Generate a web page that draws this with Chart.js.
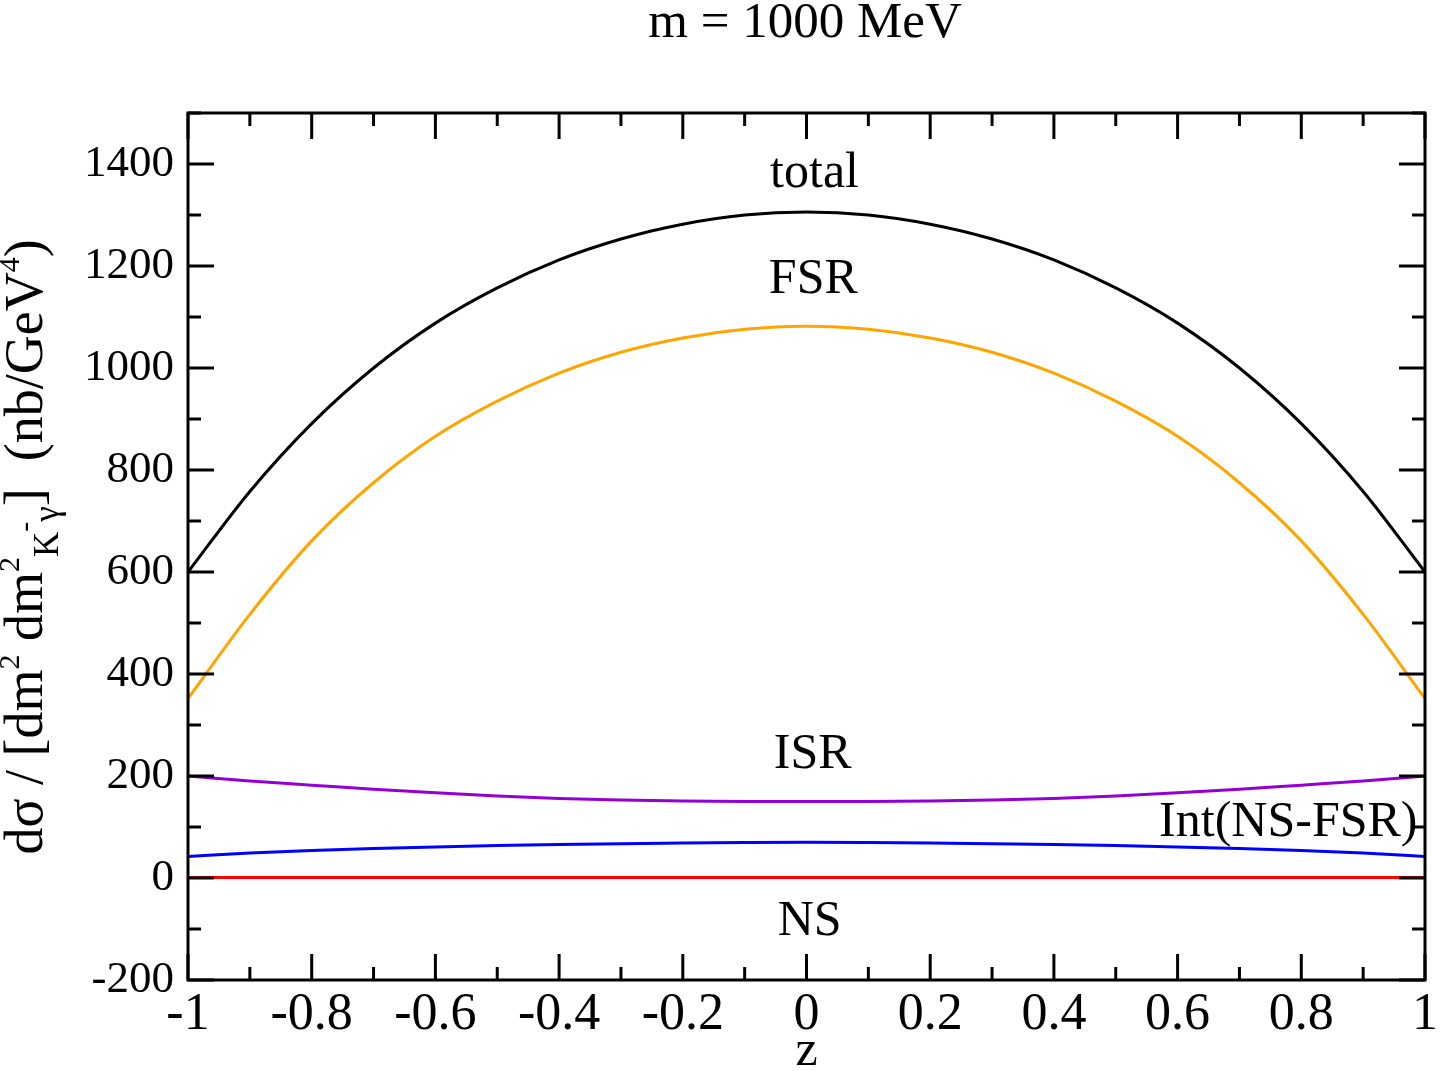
<!DOCTYPE html>
<html>
<head>
<meta charset="utf-8">
<script src="https://cdn.jsdelivr.net/npm/chart.js@4/dist/chart.umd.min.js"></script>
<style>
  html, body { margin: 0; padding: 0; background: #fff; }
</style>
</head>
<body>
<canvas id="myChart" width="1442" height="1071"></canvas>
<script>
// valores de z (eje X)
const zValues = [-1, -0.9, -0.8, -0.7, -0.6, -0.5, -0.4, -0.3, -0.2, -0.1, 0,
                 0.1, 0.2, 0.3, 0.4, 0.5, 0.6, 0.7, 0.8, 0.9, 1];

// curvas (nb/GeV^4)
const totalValues = [600, 758, 891, 1000, 1088, 1157, 1212, 1253, 1282, 1300, 1306,
                     1300, 1282, 1253, 1212, 1157, 1088, 1000, 891, 758, 600];
const fsrValues = [352, 517, 661, 775, 866, 935, 990, 1031, 1059, 1076, 1082,
                   1076, 1059, 1031, 990, 935, 866, 775, 661, 517, 352];
const isrValues = [200, 190, 182, 174, 167, 161, 156, 153, 151, 150, 150,
                   150, 151, 153, 156, 161, 167, 174, 182, 190, 200];
const intValues = [42, 49, 54, 58, 61, 63.5, 65.5, 67, 68.5, 69.5, 70,
                   69.5, 68.5, 67, 65.5, 63.5, 61, 58, 54, 49, 42];
const nsValues = [1, 1, 1, 1, 1, 1, 1, 1, 1, 1, 1,
                  1, 1, 1, 1, 1, 1, 1, 1, 1, 1];

// etiquetas dentro del gráfico [texto, z, valor]
const curveLabels = [
    ['total', 0.013, 1355],
    ['FSR', 0.011, 1147],
    ['ISR', 0.01, 215],
    ['Int(NS-FSR)', 0.779, 83],
    ['NS', 0.005, -111]
];

const FONT = '"Liberation Serif", "Times New Roman", serif';

function serie(vals, color) {
    return {
        data: zValues.map((z, i) => ({ x: z, y: vals[i] })),
        borderColor: color,
        borderWidth: 3,
        pointRadius: 0,
        fill: false,
        cubicInterpolationMode: 'monotone'
    };
}

// marco, ticks interiores y textos
const decoPlugin = {
    id: 'deco',
    afterDraw(chart) {
        const ctx = chart.ctx;
        const a = chart.chartArea;
        const xs = chart.scales.x;
        const ys = chart.scales.y;
        ctx.save();
        ctx.strokeStyle = '#000';
        ctx.lineWidth = 3;

        // ticks X (mayores cada 0.2, menores cada 0.1)
        for (let i = -10; i <= 10; i++) {
            const px = xs.getPixelForValue(i / 10);
            const len = (i % 2 === 0) ? 26 : 13;
            ctx.beginPath();
            ctx.moveTo(px, a.bottom); ctx.lineTo(px, a.bottom - len);
            ctx.moveTo(px, a.top); ctx.lineTo(px, a.top + len);
            ctx.stroke();
        }
        // ticks Y (mayores cada 200, menores cada 100)
        for (let v = -200; v <= 1500; v += 100) {
            const py = ys.getPixelForValue(v);
            const len = (v % 200 === 0) ? 26 : 13;
            ctx.beginPath();
            ctx.moveTo(a.left, py); ctx.lineTo(a.left + len, py);
            ctx.moveTo(a.right, py); ctx.lineTo(a.right - len, py);
            ctx.stroke();
        }
        ctx.strokeRect(a.left, a.top, a.right - a.left, a.bottom - a.top);

        // etiquetas de las curvas
        ctx.fillStyle = '#000';
        ctx.font = '50px ' + FONT;
        ctx.textAlign = 'center';
        ctx.textBaseline = 'alphabetic';
        curveLabels.forEach(l => {
            ctx.fillText(l[0], xs.getPixelForValue(l[1]), ys.getPixelForValue(l[2]));
        });

        // título eje X
        ctx.fillText('z', xs.getPixelForValue(0), 1065);
        // título
        ctx.font = '51px ' + FONT;
        ctx.fillText('m = 1000 MeV', 805, 37);

        // título eje Y con sub/superíndices
        const base = 54;
        const parts = [
            ['dσ / [dm', 1, 0],
            ['2', 0.55, -0.42],
            [' dm', 1, 0],
            ['2', 0.55, -0.42],
            ['K', 0.65, 0.3],
            ['-', 0.55, -0.15],
            ['γ', 0.65, 0.3],
            [']  (nb/GeV', 1, 0],
            ['4', 0.55, -0.42],
            [')', 1, 0]
        ];
        let total = 0;
        parts.forEach(p => {
            ctx.font = Math.round(base * p[1]) + 'px ' + FONT;
            p.w = ctx.measureText(p[0]).width;
            total += p.w;
        });
        ctx.translate(42, 547);
        ctx.rotate(-Math.PI / 2);
        ctx.textAlign = 'left';
        let x = -total / 2;
        parts.forEach(p => {
            ctx.font = Math.round(base * p[1]) + 'px ' + FONT;
            ctx.fillText(p[0], x, p[2] * base);
            x += p.w;
        });
        ctx.restore();
    }
};

const ctx = document.getElementById('myChart').getContext('2d');
const myChart = new Chart(ctx, {
    type: 'line',
    data: {
        datasets: [
            serie(totalValues, '#000000'),
            serie(fsrValues, '#FFA500'),
            serie(isrValues, '#9400D3'),
            serie(intValues, '#0000FF'),
            serie(nsValues, '#FF0000')
        ]
    },
    options: {
        responsive: false,
        animation: false,
        layout: { padding: { left: 0, top: 113, right: 16, bottom: 0 } },
        plugins: { legend: { display: false }, tooltip: { enabled: false } },
        scales: {
            x: {
                type: 'linear',
                min: -1, max: 1,
                grid: { display: false, drawTicks: false },
                border: { display: false },
                afterFit: s => { s.height = 91; },
                ticks: {
                    stepSize: 0.2,
                    autoSkip: false,
                    maxRotation: 0,
                    padding: 4,
                    color: '#000',
                    font: { family: FONT, size: 52 },
                    callback: v => String(Math.round(v * 10) / 10)
                }
            },
            y: {
                min: -200, max: 1500,
                grid: { display: false, drawTicks: false },
                border: { display: false },
                afterFit: s => { s.width = 188; },
                ticks: {
                    stepSize: 200,
                    includeBounds: false,
                    padding: 14,
                    color: '#000',
                    font: { family: FONT, size: 45 },
                    callback: v => String(v)
                }
            }
        }
    },
    plugins: [decoPlugin]
});
</script>
</body>
</html>
